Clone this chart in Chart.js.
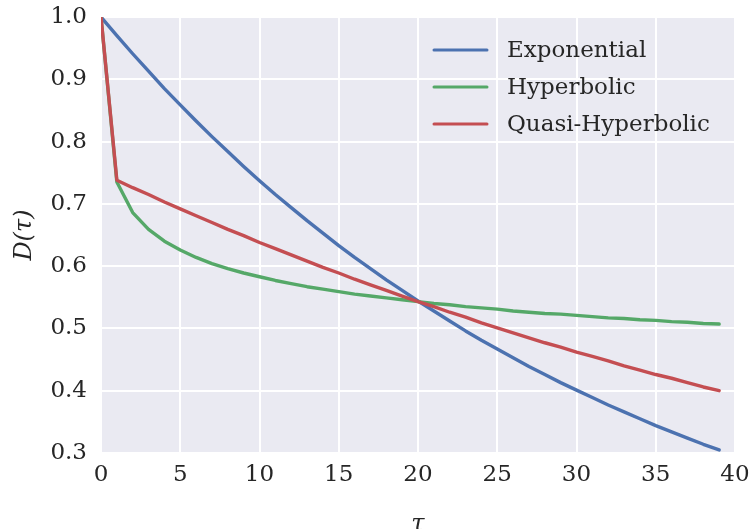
<!DOCTYPE html>
<html>
<head>
  <meta charset="UTF-8">
  <title>Discount functions</title>
  <script src="https://cdn.jsdelivr.net/npm/chart.js"></script>
  <style>
    html, body { margin: 0; padding: 0; background: #fff; }
    #wrap { width: 749px; height: 529px; }
  </style>
</head>
<body>
  <div id="wrap"><canvas id="chart" width="749" height="529"></canvas></div>
  <script>
    // data
    const tau = [0,1,2,3,4,5,6,7,8,9,10,11,12,13,14,15,16,17,18,19,20,21,22,23,24,25,26,27,28,29,30,31,32,33,34,35,36,37,38,39];
    const exponential = [1.000,0.970,0.941,0.913,0.885,0.859,0.833,0.808,0.784,0.760,0.737,0.715,0.694,0.673,0.653,0.633,0.614,0.596,0.578,0.561,0.544,0.528,0.512,0.496,0.481,0.467,0.453,0.439,0.426,0.413,0.401,0.389,0.377,0.366,0.355,0.344,0.334,0.324,0.314,0.305];
    const hyperbolic = [1.000,0.735,0.686,0.659,0.640,0.626,0.614,0.604,0.596,0.589,0.583,0.577,0.572,0.567,0.563,0.559,0.555,0.552,0.549,0.546,0.543,0.540,0.538,0.535,0.533,0.531,0.528,0.526,0.524,0.523,0.521,0.519,0.517,0.516,0.514,0.513,0.511,0.510,0.508,0.507];
    const quasiHyperbolic = [1.000,0.738,0.726,0.715,0.703,0.692,0.681,0.670,0.659,0.649,0.638,0.628,0.618,0.608,0.598,0.589,0.579,0.570,0.561,0.552,0.543,0.535,0.526,0.518,0.509,0.501,0.493,0.485,0.477,0.470,0.462,0.455,0.448,0.440,0.433,0.426,0.420,0.413,0.406,0.400];
    const seriesNames = ['Exponential', 'Hyperbolic', 'Quasi-Hyperbolic'];
    const colors = ['#4C72B0', '#55A868', '#C44E52'];

    const serif = "'DejaVu Serif', 'Liberation Serif', serif";
    const textColor = '#262626';

    const toPoints = ys => ys.map((y, i) => ({ x: tau[i], y: y }));

    // grey plot background
    const bgPlugin = {
      id: 'bg',
      beforeDraw(chart) {
        const a = chart.chartArea, ctx = chart.ctx;
        ctx.save();
        ctx.fillStyle = '#EAEAF2';
        ctx.fillRect(a.left, a.top, a.right - a.left, a.bottom - a.top);
        ctx.restore();
      }
    };

    // legend inside the plot, top right, no frame
    const legendPlugin = {
      id: 'innerLegend',
      afterDatasetsDraw(chart) {
        const ctx = chart.ctx;
        ctx.save();
        ctx.font = '23px ' + serif;
        ctx.textBaseline = 'middle';
        seriesNames.forEach((name, i) => {
          const y = 50 + i * 37;
          ctx.strokeStyle = colors[i];
          ctx.lineWidth = 3;
          ctx.lineCap = 'round';
          ctx.beginPath();
          ctx.moveTo(434, y);
          ctx.lineTo(487, y);
          ctx.stroke();
          ctx.fillStyle = textColor;
          ctx.fillText(name, 507, y + 1);
        });
        ctx.restore();
      }
    };

    new Chart(document.getElementById('chart'), {
      type: 'line',
      data: {
        datasets: [
          { label: seriesNames[0], data: toPoints(exponential), borderColor: colors[0], order: 3 },
          { label: seriesNames[1], data: toPoints(hyperbolic), borderColor: colors[1], order: 2 },
          { label: seriesNames[2], data: toPoints(quasiHyperbolic), borderColor: colors[2], order: 1 }
        ]
      },
      options: {
        responsive: false,
        animation: false,
        layout: { padding: { top: 17, right: 14, left: 0, bottom: 0 } },
        elements: {
          point: { radius: 0 },
          line: { borderWidth: 3.4, tension: 0, borderCapStyle: 'round', borderJoinStyle: 'round' }
        },
        plugins: {
          legend: { display: false },
          tooltip: { enabled: false }
        },
        scales: {
          x: {
            type: 'linear',
            min: 0, max: 40,
            ticks: { stepSize: 5, color: textColor, font: { family: serif, size: 23 }, padding: 8, maxRotation: 0 },
            grid: { color: '#ffffff', lineWidth: 2, drawTicks: false },
            border: { display: false },
            title: { display: true, text: 'τ', color: textColor, font: { family: serif, size: 24, style: 'italic' }, padding: { top: 20, bottom: -10 } },
            afterFit(s) { s.height = 76; s.paddingRight = 0; s.paddingLeft = 0; }
          },
          y: {
            min: 0.3, max: 1.0,
            ticks: { stepSize: 0.1, color: textColor, font: { family: serif, size: 23 }, padding: 14,
              callback: v => v.toFixed(1) },
            grid: { color: '#ffffff', lineWidth: 2, drawTicks: false },
            border: { display: false },
            title: { display: true, text: 'D(τ)', color: textColor, font: { family: serif, size: 24, style: 'italic' }, padding: { bottom: 2, top: 10 } },
            afterFit(s) { s.width = 101; s.paddingTop = 0; s.paddingBottom = 0; }
          }
        }
      },
      plugins: [bgPlugin, legendPlugin]
    });
  </script>
</body>
</html>
